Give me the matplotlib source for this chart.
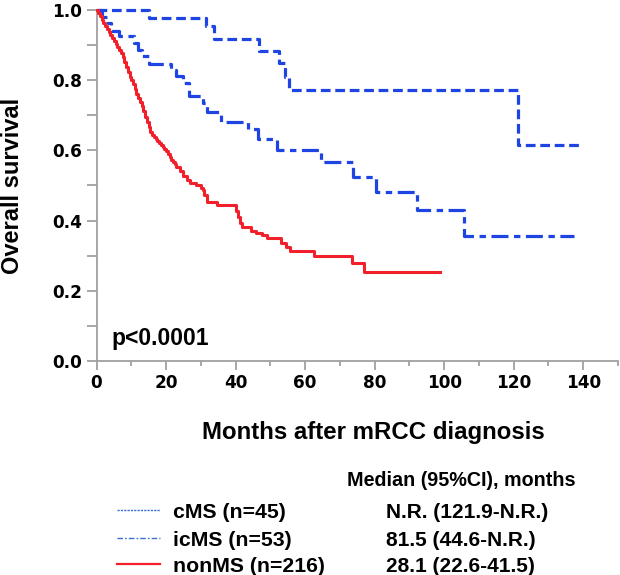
import matplotlib
matplotlib.use("Agg")
import matplotlib.pyplot as plt
from matplotlib.lines import Line2D
from matplotlib.ticker import MultipleLocator, FixedLocator

# ---------------- data ----------------
cms_t = [0, 15.1, 31.4, 33.7, 46.6, 52.5, 54.3, 55.4, 121.1]
cms_s = [1.0, 0.976, 0.955, 0.917, 0.883, 0.849, 0.810, 0.772, 0.615]
cms_end = 139.4

icms_t = [0, 1.5, 3.2, 4.2, 6.6, 10.9, 12.0, 13.0, 15.0, 21.5, 23.0, 25.0, 26.5,
          30.5, 31.8, 35.7, 43.5, 46.5, 52.0, 64.6, 73.7, 80.3, 92.3, 105.7]
icms_s = [1.0, 0.981, 0.962, 0.940, 0.925, 0.906, 0.887, 0.870, 0.847, 0.830,
          0.811, 0.792, 0.755, 0.736, 0.708, 0.680, 0.660, 0.632, 0.600, 0.568,
          0.525, 0.482, 0.430, 0.356]
icms_end = 137.4

non_t = [0, 0.5, 1, 1.5, 2, 2.5, 3, 3.5, 4, 4.5, 5, 5.5, 6, 6.5, 7, 7.5, 8, 8.5,
         9, 9.5, 10, 10.5, 11, 11.5, 12, 12.5, 13, 13.5, 14, 14.5, 15, 15.5, 16,
         16.5, 17, 17.5, 18, 18.5, 19, 19.5, 20, 20.5, 21, 21.5, 22, 22.5, 23, 24,
         25, 26, 27, 28.5, 30, 30.5, 31, 31.8, 34.6, 40.2, 40.8, 41.3, 41.8, 44.3,
         46.0, 47.5, 49.0, 53.0, 54.5, 55.6, 62.5, 73.5, 76.8]
non_s = [1.0, 0.991, 0.982, 0.972, 0.963, 0.954, 0.945, 0.938, 0.930, 0.921,
         0.912, 0.903, 0.894, 0.885, 0.877, 0.866, 0.852, 0.838, 0.822, 0.810,
         0.800, 0.788, 0.774, 0.760, 0.748, 0.738, 0.726, 0.712, 0.695, 0.682,
         0.668, 0.653, 0.645, 0.638, 0.632, 0.627, 0.620, 0.615, 0.609, 0.604,
         0.598, 0.589, 0.580, 0.572, 0.566, 0.560, 0.553, 0.540, 0.527, 0.516,
         0.507, 0.501, 0.493, 0.487, 0.472, 0.454, 0.444, 0.428, 0.410, 0.393,
         0.383, 0.371, 0.364, 0.359, 0.350, 0.336, 0.326, 0.314, 0.299, 0.279,
         0.254]
non_end = 98.9

group_labels = ["cMS (n=45)", "icMS (n=53)", "nonMS (n=216)"]
median_labels = ["N.R. (121.9-N.R.)", "81.5 (44.6-N.R.)", "28.1 (22.6-41.5)"]
median_header = "Median (95%CI), months"
p_text = "p<0.0001"
x_label = "Months after mRCC diagnosis"
y_label = "Overall survival"
x_ticks = [0, 20, 40, 60, 80, 100, 120, 140]
y_ticks = [0.0, 0.2, 0.4, 0.6, 0.8, 1.0]

# ---------------- styling ----------------
W, H = 620, 575
BLUE = "#1e44e2"
RED = "#f2202a"
GREY = "#a0a0a0"
plt.rcParams["lines.scale_dashes"] = False
TXT = dict(family=["Liberation Sans", "DejaVu Sans"], weight="bold")
TICKFONT = dict(family=["DejaVu Sans"], weight="bold", size=12.2)

fig = plt.figure(figsize=(W / 100, H / 100), dpi=100)
x0, x1 = 96.5, 618.0
y0, y1 = 361.0, 10.0
ax = fig.add_axes([x0 / W, (H - y0) / H, (x1 - x0) / W, (y0 - y1) / H])

def steps(t, s, end):
    return list(t) + [end], list(s) + [s[-1]]

tx, sx = steps(cms_t, cms_s, cms_end)
ax.step(tx, sx, where="post", color=BLUE, lw=2.3, dashes=(7.0, 3.4),
        clip_on=False, zorder=3)
tx, sx = steps(icms_t, icms_s, icms_end)
ax.step(tx, sx, where="post", color=BLUE, lw=2.3, dashes=(12.2, 4.0, 4.6, 4.0),
        clip_on=False, zorder=3)
tx, sx = steps(non_t, non_s, non_end)
ax.step(tx, sx, where="post", color=RED, lw=2.2, clip_on=False, zorder=4)

ax.set_xlim(0, 150)
ax.set_ylim(0, 1.0)
for sp in ["top", "right"]:
    ax.spines[sp].set_visible(False)
for sp in ["left", "bottom"]:
    ax.spines[sp].set_color(GREY)
    ax.spines[sp].set_linewidth(1.3)

ax.xaxis.set_major_locator(FixedLocator(x_ticks))
ax.xaxis.set_minor_locator(MultipleLocator(10))
ax.yaxis.set_major_locator(FixedLocator(y_ticks))
ax.yaxis.set_minor_locator(MultipleLocator(0.1))
ax.set_xticklabels([str(v) for v in x_ticks], **TICKFONT)
ax.set_yticklabels([f"{v:.1f}" for v in y_ticks], **TICKFONT)
ax.tick_params(axis="x", which="major", length=6.5, width=1.3, color=GREY, pad=3)
ax.tick_params(axis="x", which="minor", length=3.6, width=1.3, color=GREY)
ax.tick_params(axis="y", which="both", length=7.2, width=1.3, color=GREY, pad=3)

fig.text(111 / W, 1 - 338 / H, p_text, fontsize=16.5, va="center", ha="left", **TXT)
fig.text(373 / W, 1 - 432 / H, x_label, fontsize=17.3, va="center", ha="center", **TXT)
fig.text(13 / W, 1 - 186 / H, y_label, fontsize=17, va="center", ha="center",
         rotation=90, **TXT)

# bottom legend / table
fig.text(347 / W, 1 - 480 / H, median_header, fontsize=14.2, va="center", ha="left", **TXT)
row_y = [512.5, 540.0, 566.0]
line_y = [509.5, 537.5, 564.0]
leg_styles = [dict(color="#3b6fd4", lw=1.0, dashes=(1.6, 0.8)),
              dict(color="#3b6fd4", lw=1.0, dashes=(4.0, 1.5, 1.2, 1.5)),
              dict(color=RED, lw=1.6)]
for lbl, med, ty, ly, st in zip(group_labels, median_labels, row_y, line_y, leg_styles):
    fig.add_artist(Line2D([117 / W, 160 / W], [1 - ly / H, 1 - ly / H],
                          transform=fig.transFigure, **st))
    fig.text(172.7 / W, 1 - ty / H, lbl, fontsize=15.3, va="center", ha="left", **TXT)
    fig.text(386 / W, 1 - ty / H, med, fontsize=15, va="center", ha="left", **TXT)

fig.savefig("out.png", dpi=100)
